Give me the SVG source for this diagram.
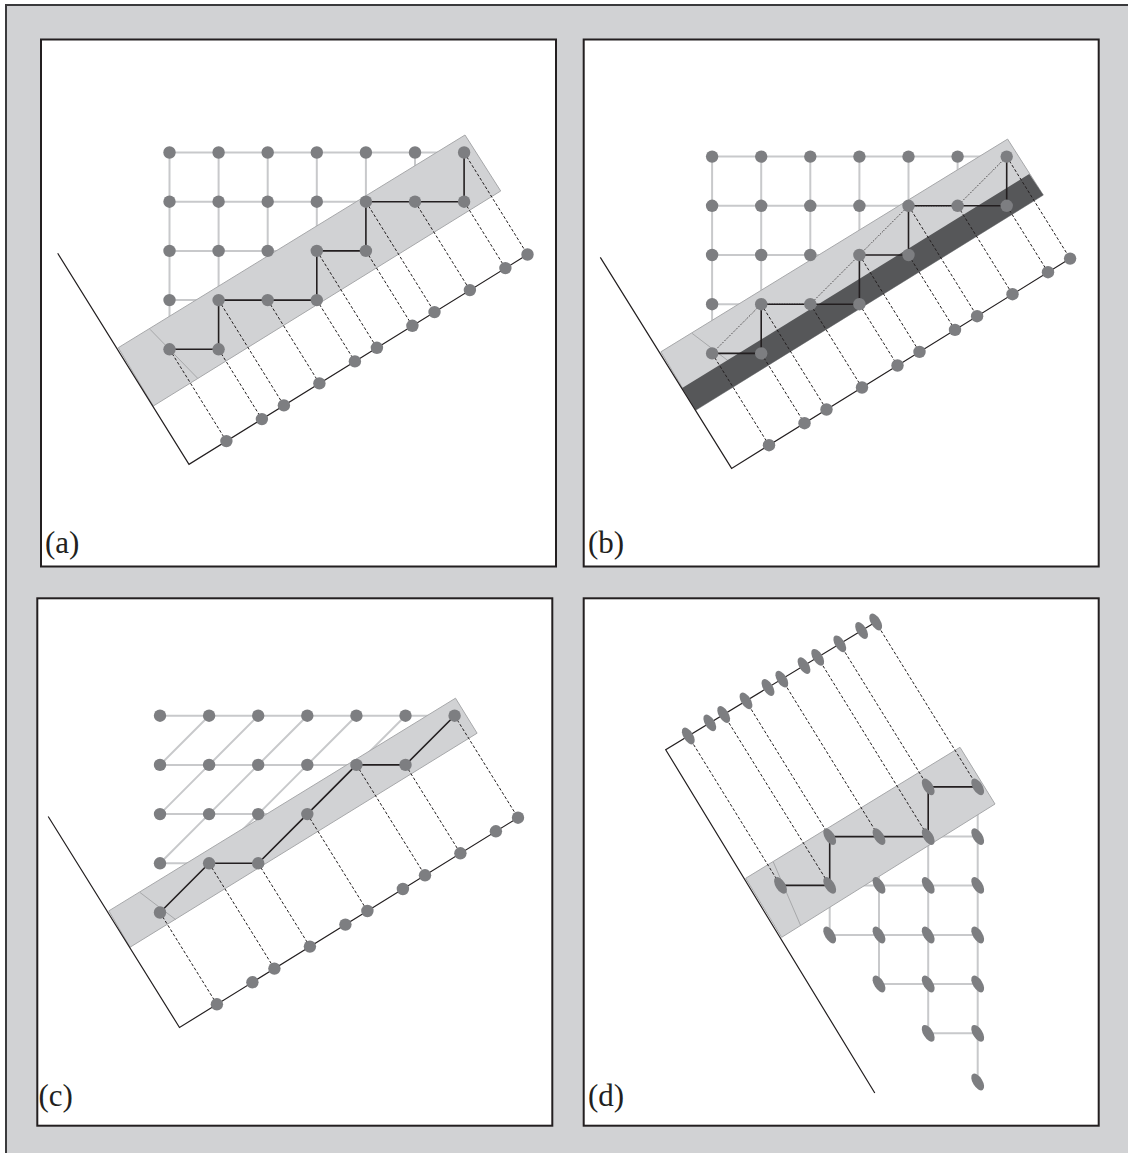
<svg xmlns="http://www.w3.org/2000/svg" xmlns:xlink="http://www.w3.org/1999/xlink" width="1128" height="1153" viewBox="0 0 1128 1153">
<style>
.bg{fill:#d1d2d4;stroke:#3a3a3c;stroke-width:2}
.frame{fill:#fff;stroke:#231f20;stroke-width:2}
.grid{fill:none;stroke:#c8c9cb;stroke-width:2}
.band{fill:#d1d2d4;stroke:#a7a8aa;stroke-width:1}
.dark{fill:#565759;stroke:none}
.thin{fill:none;stroke:#a7a8aa;stroke-width:1}
.proj{fill:none;stroke:#231f20;stroke-width:1;stroke-dasharray:3 2}
.axis{fill:none;stroke:#231f20;stroke-width:1.2}
.path{fill:none;stroke:#231f20;stroke-width:1.6}
.dot{fill:none;stroke:#231f20;stroke-width:1;stroke-dasharray:1 1.5}
.n{fill:#7d7e81}
.lbl{font-family:"Liberation Serif","Times New Roman",serif;font-size:31px;fill:#231f20}
</style>
<defs>
<ellipse id="en" class="n" rx="9.4" ry="4.8" transform="rotate(58)"/>
</defs>
<rect x="0" y="0" width="1128" height="1153" fill="#fff"/>
<rect class="bg" x="6" y="5" width="1200" height="1200"/>

<g id="panel-a">
<rect class="frame" x="41" y="39.5" width="515" height="527"/>
<g id="a-grid">
<path class="grid" d="M169.5 152.5H464.1M169.5 201.7H464.1M169.5 250.9H365.9M169.5 300.1H316.8M169.5 349.3H218.6M169.5 152.5V349.3M218.6 152.5V349.3M267.7 152.5V300.1M316.8 152.5V300.1M365.9 152.5V250.9M415 152.5V201.7M464.1 152.5V201.7"/>
</g>
<g id="a-band">
<polygon class="band" points="118.3,347.7 465,135 500.7,191 153.3,406"/>
<path class="thin" d="M150 329.3L197.7 378.3"/>
</g>
<g id="a-connectors">
<path class="proj" d="M169.5 349.3L226.4 441.1M218.6 349.3L261.9 419.1M218.6 300.1L283.9 405.4M267.7 300.1L319.4 383.4M316.8 300.1L354.9 361.4M316.8 250.9L376.9 347.8M365.9 250.9L412.4 325.8M365.9 201.7L434.5 312.1M415 201.7L469.9 290.1M464.1 201.7L505.4 268.1M464.1 152.5L527.5 254.5"/>
<path class="axis" d="M57.7 253.3L189 464.3L527.5 254.5"/>
<path class="path" d="M169.5 349.3H218.6V300.1H316.8V250.9H365.9V201.7H464.1V152.5"/>
</g>
<g id="a-nodes">
<circle class="n" cx="169.5" cy="152.5" r="6.2"/><circle class="n" cx="218.6" cy="152.5" r="6.2"/><circle class="n" cx="267.7" cy="152.5" r="6.2"/><circle class="n" cx="316.8" cy="152.5" r="6.2"/><circle class="n" cx="365.9" cy="152.5" r="6.2"/><circle class="n" cx="415" cy="152.5" r="6.2"/><circle class="n" cx="464.1" cy="152.5" r="6.2"/>
<circle class="n" cx="169.5" cy="201.7" r="6.2"/><circle class="n" cx="218.6" cy="201.7" r="6.2"/><circle class="n" cx="267.7" cy="201.7" r="6.2"/><circle class="n" cx="316.8" cy="201.7" r="6.2"/><circle class="n" cx="365.9" cy="201.7" r="6.2"/><circle class="n" cx="415" cy="201.7" r="6.2"/><circle class="n" cx="464.1" cy="201.7" r="6.2"/>
<circle class="n" cx="169.5" cy="250.9" r="6.2"/><circle class="n" cx="218.6" cy="250.9" r="6.2"/><circle class="n" cx="267.7" cy="250.9" r="6.2"/><circle class="n" cx="316.8" cy="250.9" r="6.2"/><circle class="n" cx="365.9" cy="250.9" r="6.2"/>
<circle class="n" cx="169.5" cy="300.1" r="6.2"/><circle class="n" cx="218.6" cy="300.1" r="6.2"/><circle class="n" cx="267.7" cy="300.1" r="6.2"/><circle class="n" cx="316.8" cy="300.1" r="6.2"/>
<circle class="n" cx="169.5" cy="349.3" r="6.2"/><circle class="n" cx="218.6" cy="349.3" r="6.2"/>
<circle class="n" cx="226.4" cy="441.1" r="6.2"/><circle class="n" cx="261.9" cy="419.1" r="6.2"/><circle class="n" cx="283.9" cy="405.4" r="6.2"/><circle class="n" cx="319.4" cy="383.4" r="6.2"/><circle class="n" cx="354.9" cy="361.4" r="6.2"/><circle class="n" cx="376.9" cy="347.8" r="6.2"/><circle class="n" cx="412.4" cy="325.8" r="6.2"/><circle class="n" cx="434.5" cy="312.1" r="6.2"/><circle class="n" cx="469.9" cy="290.1" r="6.2"/><circle class="n" cx="505.4" cy="268.1" r="6.2"/><circle class="n" cx="527.5" cy="254.5" r="6.2"/>
</g>
<text class="lbl" x="45" y="553">(a)</text>
</g>

<g id="panel-b">
<rect class="frame" x="583.7" y="39.5" width="515" height="527"/>
<g transform="translate(542.6,4.1)">
<g id="b-grid">
<path class="grid" d="M169.5 152.5H464.1M169.5 201.7H464.1M169.5 250.9H365.9M169.5 300.1H316.8M169.5 349.3H218.6M169.5 152.5V349.3M218.6 152.5V349.3M267.7 152.5V300.1M316.8 152.5V300.1M365.9 152.5V250.9M415 152.5V201.7M464.1 152.5V201.7"/>
</g>
<g id="b-band">
<polygon class="band" points="118.3,347.7 465,135 500.7,191 153.3,406"/>
<path class="thin" d="M149.5 329.3L185.3 356.5"/>
<polygon class="dark" points="139.6,384 486.6,170 500.7,191 153.3,406"/>
</g>
<g id="b-connectors">
<path class="proj" d="M169.5 349.3L226.4 441.1M218.6 349.3L261.9 419.1M218.6 300.1L283.9 405.4M267.7 300.1L319.4 383.4M316.8 300.1L354.9 361.4M316.8 250.9L376.9 347.8M365.9 250.9L412.4 325.8M365.9 201.7L434.5 312.1M415 201.7L469.9 290.1M464.1 201.7L505.4 268.1M464.1 152.5L527.5 254.5"/>
<path class="axis" d="M57.7 253.3L189 464.3L527.5 254.5"/>
<path class="path" d="M169.5 349.3H218.6V300.1H316.8V250.9H365.9V201.7H464.1V152.5"/>
<path class="dot" d="M169.5 349.3L218.6 300.1H267.7L316.8 250.9L365.9 201.7H415L464.1 152.5"/>
</g>
<g id="b-nodes">
<circle class="n" cx="169.5" cy="152.5" r="6.2"/><circle class="n" cx="218.6" cy="152.5" r="6.2"/><circle class="n" cx="267.7" cy="152.5" r="6.2"/><circle class="n" cx="316.8" cy="152.5" r="6.2"/><circle class="n" cx="365.9" cy="152.5" r="6.2"/><circle class="n" cx="415" cy="152.5" r="6.2"/><circle class="n" cx="464.1" cy="152.5" r="6.2"/>
<circle class="n" cx="169.5" cy="201.7" r="6.2"/><circle class="n" cx="218.6" cy="201.7" r="6.2"/><circle class="n" cx="267.7" cy="201.7" r="6.2"/><circle class="n" cx="316.8" cy="201.7" r="6.2"/><circle class="n" cx="365.9" cy="201.7" r="6.2"/><circle class="n" cx="415" cy="201.7" r="6.2"/><circle class="n" cx="464.1" cy="201.7" r="6.2"/>
<circle class="n" cx="169.5" cy="250.9" r="6.2"/><circle class="n" cx="218.6" cy="250.9" r="6.2"/><circle class="n" cx="267.7" cy="250.9" r="6.2"/><circle class="n" cx="316.8" cy="250.9" r="6.2"/><circle class="n" cx="365.9" cy="250.9" r="6.2"/>
<circle class="n" cx="169.5" cy="300.1" r="6.2"/><circle class="n" cx="218.6" cy="300.1" r="6.2"/><circle class="n" cx="267.7" cy="300.1" r="6.2"/><circle class="n" cx="316.8" cy="300.1" r="6.2"/>
<circle class="n" cx="169.5" cy="349.3" r="6.2"/><circle class="n" cx="218.6" cy="349.3" r="6.2"/>
<circle class="n" cx="226.4" cy="441.1" r="6.2"/><circle class="n" cx="261.9" cy="419.1" r="6.2"/><circle class="n" cx="283.9" cy="405.4" r="6.2"/><circle class="n" cx="319.4" cy="383.4" r="6.2"/><circle class="n" cx="354.9" cy="361.4" r="6.2"/><circle class="n" cx="376.9" cy="347.8" r="6.2"/><circle class="n" cx="412.4" cy="325.8" r="6.2"/><circle class="n" cx="434.5" cy="312.1" r="6.2"/><circle class="n" cx="469.9" cy="290.1" r="6.2"/><circle class="n" cx="505.4" cy="268.1" r="6.2"/><circle class="n" cx="527.5" cy="254.5" r="6.2"/>
</g>
</g>
<text class="lbl" x="588" y="553">(b)</text>
</g>

<g id="panel-c">
<rect class="frame" x="37.3" y="598.3" width="515" height="527.4"/>
<g transform="translate(-9.5,563.2)">
<g id="c-grid">
<path class="grid" d="M169.5 152.5H464.1M169.5 201.7H415M169.5 250.9H316.8M169.5 300.1H267.7M218.6 152.5L169.5 201.7M267.7 152.5L218.6 201.7M316.8 152.5L267.7 201.7M365.9 152.5L316.8 201.7M415 152.5L365.9 201.7M464.1 152.5L415 201.7M218.6 201.7L169.5 250.9M267.7 201.7L218.6 250.9M316.8 201.7L267.7 250.9M365.9 201.7L316.8 250.9M218.6 250.9L169.5 300.1M267.7 250.9L218.6 300.1M316.8 250.9L267.7 300.1M218.6 300.1L169.5 349.3"/>
</g>
<g id="c-band">
<polygon class="band" points="118.3,347.7 465,135 486.6,170 139.6,384"/>
<path class="thin" d="M149.5 329.3L185.3 356.5"/>
</g>
<g id="c-connectors">
<path class="proj" d="M169.5 349.3L226.4 441.1M218.6 300.1L283.9 405.4M267.7 300.1L319.4 383.4M316.8 250.9L376.9 347.8M365.9 201.7L434.5 312.1M415 201.7L469.9 290.1M464.1 152.5L527.5 254.5"/>
<path class="axis" d="M57.7 253.3L189 464.3L527.5 254.5"/>
<path class="path" d="M169.5 349.3L218.6 300.1H267.7L316.8 250.9L365.9 201.7H415L464.1 152.5"/>
</g>
<g id="c-nodes">
<circle class="n" cx="169.5" cy="152.5" r="6.2"/><circle class="n" cx="218.6" cy="152.5" r="6.2"/><circle class="n" cx="267.7" cy="152.5" r="6.2"/><circle class="n" cx="316.8" cy="152.5" r="6.2"/><circle class="n" cx="365.9" cy="152.5" r="6.2"/><circle class="n" cx="415" cy="152.5" r="6.2"/><circle class="n" cx="464.1" cy="152.5" r="6.2"/>
<circle class="n" cx="169.5" cy="201.7" r="6.2"/><circle class="n" cx="218.6" cy="201.7" r="6.2"/><circle class="n" cx="267.7" cy="201.7" r="6.2"/><circle class="n" cx="316.8" cy="201.7" r="6.2"/><circle class="n" cx="365.9" cy="201.7" r="6.2"/><circle class="n" cx="415" cy="201.7" r="6.2"/>
<circle class="n" cx="169.5" cy="250.9" r="6.2"/><circle class="n" cx="218.6" cy="250.9" r="6.2"/><circle class="n" cx="267.7" cy="250.9" r="6.2"/><circle class="n" cx="316.8" cy="250.9" r="6.2"/>
<circle class="n" cx="169.5" cy="300.1" r="6.2"/><circle class="n" cx="218.6" cy="300.1" r="6.2"/><circle class="n" cx="267.7" cy="300.1" r="6.2"/>
<circle class="n" cx="169.5" cy="349.3" r="6.2"/>
<circle class="n" cx="226.4" cy="441.1" r="6.2"/><circle class="n" cx="261.9" cy="419.1" r="6.2"/><circle class="n" cx="283.9" cy="405.4" r="6.2"/><circle class="n" cx="319.4" cy="383.4" r="6.2"/><circle class="n" cx="354.9" cy="361.4" r="6.2"/><circle class="n" cx="376.9" cy="347.8" r="6.2"/><circle class="n" cx="412.4" cy="325.8" r="6.2"/><circle class="n" cx="434.5" cy="312.1" r="6.2"/><circle class="n" cx="469.9" cy="290.1" r="6.2"/><circle class="n" cx="505.4" cy="268.1" r="6.2"/><circle class="n" cx="527.5" cy="254.5" r="6.2"/>
</g>
</g>
<text class="lbl" x="38.5" y="1106">(c)</text>
</g>

<g id="panel-d">
<rect class="frame" x="583.7" y="598.3" width="515" height="527.4"/>
<g id="d-grid">
<path class="grid" d="M829.7 836.6V935M879 836.6V984M928.2 786.9V1033.3M977.7 786.9V1082M928.2 786.9H977.7M829.7 836.6H977.7M780.5 885.4H977.7M829.7 935H977.7M879 984H977.7M928.2 1033.3H977.7"/>
</g>
<g id="d-band">
<polygon class="band" points="745.7,878.3 960,747.3 995,804 781.7,937.3"/>
<path class="thin" d="M773.3 862L800.7 925.6"/>
</g>
<g id="d-connectors">
<path class="proj" d="M688.3 736L780.5 885.4M723.7 714.5L829.7 885.4M746 700.9L829.7 836.6M781.8 679.1L879 836.6M817.7 657.3L928.2 836.6M839.8 643.8L928.2 786.9M875.7 622L977.7 786.9"/>
<path class="axis" d="M874.8 1093L665.7 749.7L875.7 622"/>
<path class="path" d="M780.5 885.4H829.7V836.6H928.2V786.9H977.7"/>
</g>
<g id="d-nodes">
<use xlink:href="#en" x="928.2" y="786.9"/><use xlink:href="#en" x="977.7" y="786.9"/>
<use xlink:href="#en" x="829.7" y="836.6"/><use xlink:href="#en" x="879" y="836.6"/><use xlink:href="#en" x="928.2" y="836.6"/><use xlink:href="#en" x="977.7" y="836.6"/>
<use xlink:href="#en" x="780.5" y="885.4"/><use xlink:href="#en" x="829.7" y="885.4"/><use xlink:href="#en" x="879" y="885.4"/><use xlink:href="#en" x="928.2" y="885.4"/><use xlink:href="#en" x="977.7" y="885.4"/>
<use xlink:href="#en" x="829.7" y="935"/><use xlink:href="#en" x="879" y="935"/><use xlink:href="#en" x="928.2" y="935"/><use xlink:href="#en" x="977.7" y="935"/>
<use xlink:href="#en" x="879" y="984"/><use xlink:href="#en" x="928.2" y="984"/><use xlink:href="#en" x="977.7" y="984"/>
<use xlink:href="#en" x="928.2" y="1033.3"/><use xlink:href="#en" x="977.7" y="1033.3"/>
<use xlink:href="#en" x="977.7" y="1082"/>
<use xlink:href="#en" x="688.3" y="736"/><use xlink:href="#en" x="709.8" y="722.9"/><use xlink:href="#en" x="723.7" y="714.5"/><use xlink:href="#en" x="746" y="700.9"/><use xlink:href="#en" x="768" y="687.5"/><use xlink:href="#en" x="781.8" y="679.1"/><use xlink:href="#en" x="804" y="665.6"/><use xlink:href="#en" x="817.7" y="657.3"/><use xlink:href="#en" x="839.8" y="643.8"/><use xlink:href="#en" x="861.6" y="630.5"/><use xlink:href="#en" x="875.7" y="622"/>
</g>
<text class="lbl" x="588" y="1106">(d)</text>
</g>
</svg>
